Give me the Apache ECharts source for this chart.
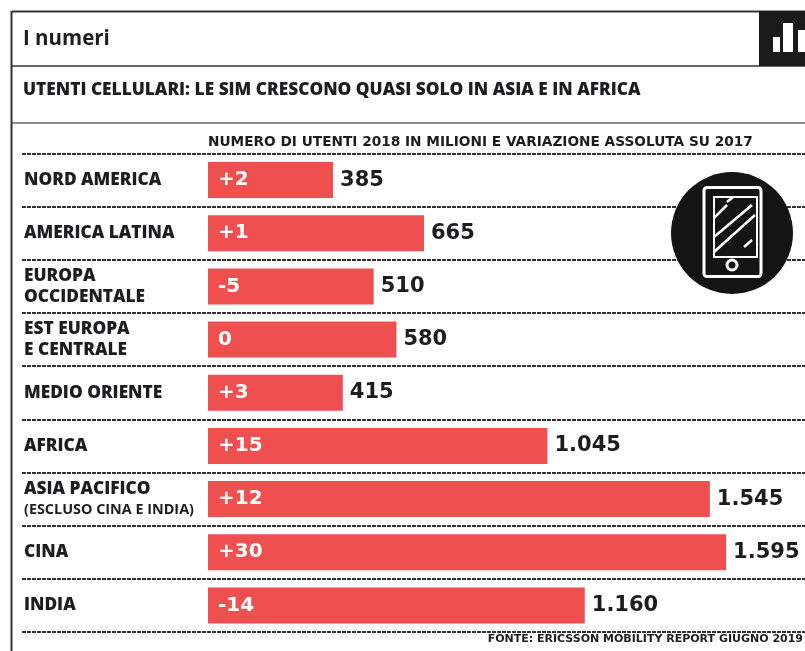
<!DOCTYPE html>
<html>
<head>
<meta charset="utf-8">
<style>html,body{margin:0;padding:0;background:#fff}#c{width:805px;height:651px}</style>
<script src="https://cdn.jsdelivr.net/npm/echarts@6/dist/echarts.min.js"></script>
</head>
<body>
<div id="c"></div>
<script>
// Mobile users by region, 2018 (millions) and absolute change on 2017
const regions = ['NORD AMERICA','AMERICA LATINA','EUROPA\nOCCIDENTALE','EST EUROPA\nE CENTRALE','MEDIO ORIENTE','AFRICA','ASIA PACIFICO\n{sub|(ESCLUSO CINA E INDIA)}','CINA','INDIA'];
const users2018 = [385,665,510,580,415,1045,1545,1595,1160];
const change = ['+2','+1','-5','0','+3','+15','+12','+30','-14'];
const headline = 'I numeri';
const subhead = 'UTENTI CELLULARI: LE SIM CRESCONO QUASI SOLO IN ASIA E IN AFRICA';
const axisNote = 'NUMERO DI UTENTI 2018 IN MILIONI E VARIAZIONE ASSOLUTA SU 2017';
const source = 'FONTE: ERICSSON MOBILITY REPORT GIUGNO 2019';

const RED = '#ef4f4f', INK = '#1d1d1f';
const thousands = v => String(v).replace(/\B(?=(\d{3})+$)/g, '.');
const text = (x, y, t, font, fill, align) => ({type:'text', z:5, style:{x, y, text:t, font, fill, align:align||'left', verticalAlign:'middle'}});
const rule = (x1, y1, x2, y2, w, c) => ({type:'line', z:5, shape:{x1,y1,x2,y2}, style:{stroke:c||'#333', lineWidth:w||1.5}});

const chart = echarts.init(document.getElementById('c'), null, {renderer:'canvas'});
chart.setOption({
  animation:false,
  backgroundColor:'#fff',
  grid:{left:22, right:0, top:153.5, bottom:19},
  // the axis starts left of zero so the separators run under the region names
  xAxis:{type:'value', min:-572.7, max:1838, show:false},
  yAxis:{
    type:'category', inverse:true, data:regions,
    axisLine:{show:false}, axisTick:{show:false},
    axisLabel:{inside:true, margin:2, align:'left', color:INK,
      fontFamily:'"Open Sans"', fontWeight:800, fontSize:17.3, lineHeight:21,
      rich:{sub:{fontFamily:'"Open Sans"', fontWeight:700, fontSize:14.4, lineHeight:21, color:INK}}},
    splitLine:{show:true, lineStyle:{color:'#333', width:2, type:[4,1]}}
  },
  series:[
    {type:'bar', data:users2018, barWidth:36, itemStyle:{color:RED}, z:2,
     label:{show:true, position:'right', distance:7, color:INK, fontFamily:'"DejaVu Sans"', fontWeight:'bold', fontSize:21,
       formatter:p => thousands(p.value)}},
    // second pass over the same values carries the change labels inside each bar
    {type:'bar', data:users2018, barWidth:36, barGap:'-100%', itemStyle:{color:'rgba(0,0,0,0)'}, z:3,
     label:{show:true, position:'insideLeft', distance:10, color:'#fff', fontFamily:'"DejaVu Sans"', fontWeight:'bold', fontSize:20,
       formatter:p => change[p.dataIndex]}}
  ],
  graphic:[
    rule(12,11.5,805,11.5,2), rule(11.5,11,11.5,651,2),
    rule(12,66,805,66,1.5), rule(12,123,805,123,1.5,'#666'),
    text(23,39,headline,'700 20.5px "Open Sans"',INK),
    text(23,90,subhead,'800 17.3px "Open Sans"',INK),
    text(208,142,axisNote,'bold 13.7px "DejaVu Sans"',INK),
    text(803,639,source,'bold 11px "DejaVu Sans"',INK,'right'),
    // chart badge, top right
    {type:'rect', z:5, shape:{x:759,y:11,width:46,height:55}, style:{fill:'#1b1b1b'}},
    {type:'rect', z:6, shape:{x:773,y:37,width:7,height:15}, style:{fill:'#fff'}},
    {type:'rect', z:6, shape:{x:783,y:23,width:10,height:29}, style:{fill:'#fff'}},
    {type:'rect', z:6, shape:{x:798,y:30,width:7,height:22}, style:{fill:'#fff'}},
    // phone badge
    {type:'circle', z:5, shape:{cx:732,cy:233,r:61}, style:{fill:'#141414'}},
    {type:'rect', z:6, shape:{x:704,y:187.5,width:57,height:89,r:3}, style:{fill:'none',stroke:'#fff',lineWidth:3}},
    {type:'rect', z:6, shape:{x:714,y:197,width:43,height:60}, style:{fill:'none',stroke:'#fff',lineWidth:2}},
    {type:'circle', z:6, shape:{cx:732,cy:265,r:5}, style:{fill:'none',stroke:'#fff',lineWidth:3}},
    ...[[714,218,727,205],[727,202,733,197],[714,237,752,205],[714,252,755,215],[744,247,752,240]].map(s =>
      ({type:'line', z:7, shape:{x1:s[0],y1:s[1],x2:s[2],y2:s[3]}, style:{stroke:'#fff',lineWidth:2.5}}))
  ]
});
</script>
</body>
</html>
